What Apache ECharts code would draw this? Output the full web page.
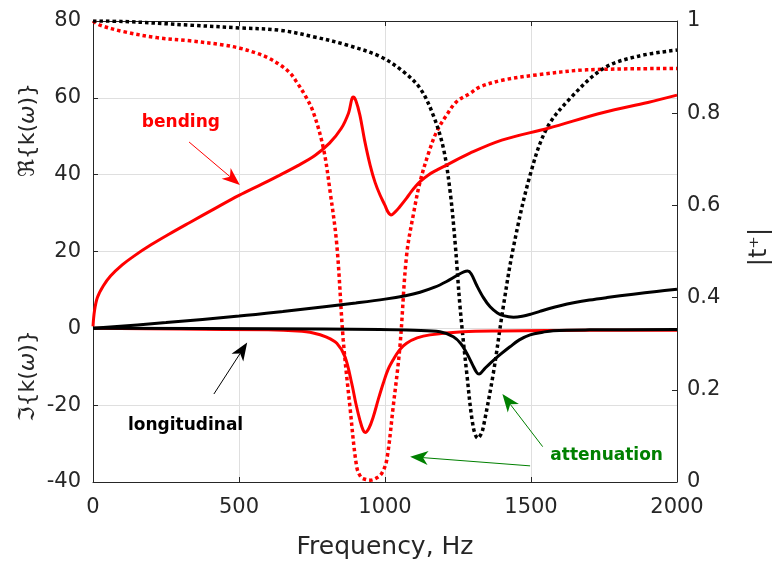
<!DOCTYPE html>
<html><head><meta charset="utf-8">
<script src="https://cdn.jsdelivr.net/npm/echarts@6/dist/echarts.min.js"></script>
<style>html,body{margin:0;padding:0;background:#fff}#c{width:774px;height:563px}</style>
</head><body><div id="c"></div>
<script>
// ---------- data ----------
const xTicks = [0, 500, 1000, 1500, 2000];
const leftTicks = [-40, -20, 0, 20, 40, 60, 80];
const rightTicks = [0, 0.2, 0.4, 0.6, 0.8, 1];

// bending, real part of k (left axis)
const bendReF = [0, 5, 15, 35, 60, 100, 140, 200, 260, 330, 420, 500, 580, 640, 700, 760, 810, 850, 875, 891, 900, 914, 930, 949, 966, 983, 1000, 1010, 1021, 1035, 1050, 1074, 1090, 1105, 1120, 1150, 1180, 1211, 1291, 1400, 1559, 1748, 1900, 2000];
const bendReV = [0.5, 4.5, 8, 11, 13.6, 16.5, 18.8, 21.8, 24.5, 27.5, 31.3, 34.6, 37.6, 39.9, 42.3, 45.0, 48.2, 52.0, 56, 60.2, 59.3, 55.5, 49, 42.5, 38, 34.7, 32, 30.3, 29.5, 30.3, 31.6, 33.9, 35.6, 37, 38.2, 40, 41.3, 42.5, 45.6, 49, 52.1, 56.2, 58.8, 60.7];
// bending, imaginary part of k (left axis)
const bendImF = [0, 300, 600, 700, 754, 800, 835, 863, 886, 900, 914, 925, 932, 945, 960, 977, 994, 1010, 1028, 1050, 1074, 1110, 1154, 1267, 1400, 1700, 2000];
const bendImV = [0, -0.2, -0.4, -0.7, -1.2, -2.3, -3.9, -7.4, -14.3, -19.5, -23.9, -26.5, -27.1, -26, -23, -18.5, -14.3, -10.8, -8.2, -5.6, -3.9, -2.5, -1.7, -0.9, -0.7, -0.5, -0.5];
// longitudinal, real part of k (left axis)
const longReF = [0, 250, 500, 650, 800, 900, 1000, 1070, 1120, 1170, 1211, 1245, 1270, 1283, 1295, 1314, 1337, 1360, 1385, 1405, 1440, 1470, 1500, 1530, 1560, 1600, 1650, 1700, 1760, 1850, 1930, 2000];
const longReV = [0, 1.5, 3.2, 4.4, 5.7, 6.6, 7.6, 8.5, 9.4, 10.7, 12.2, 13.7, 14.7, 14.9, 14.2, 11.2, 8, 5.6, 4, 3.3, 2.9, 3.15, 3.7, 4.4, 5.1, 5.9, 6.7, 7.35, 8.0, 8.9, 9.6, 10.2];
// longitudinal, imaginary part of k (left axis)
const longImF = [0, 600, 983, 1100, 1188, 1234, 1260, 1280, 1300, 1314, 1322, 1340, 1360, 1395, 1428, 1460, 1497, 1540, 1576, 1700, 2000];
const longImV = [0, -0.1, -0.3, -0.5, -0.9, -2.2, -4, -6.5, -9.5, -11.5, -11.9, -10.6, -9.1, -6.8, -4.8, -3, -1.7, -1, -0.6, -0.4, -0.3];
// bending |t+| (right axis)
const bendTF = [0, 24, 104, 218, 332, 446, 503, 561, 600, 640, 675, 697, 725, 754, 789, 812, 835, 857, 880, 903, 918, 932, 950, 972, 990, 1006, 1028, 1051, 1074, 1100, 1120, 1150, 1177, 1210, 1245, 1291, 1325, 1405, 1519, 1691, 2000];
const bendTV = [1.0, 0.991, 0.977, 0.964, 0.957, 0.948, 0.941, 0.930, 0.92, 0.905, 0.887, 0.868, 0.84, 0.803, 0.724, 0.630, 0.514, 0.308, 0.163, 0.033, 0.01, 0.006, 0.004, 0.009, 0.02, 0.048, 0.163, 0.293, 0.492, 0.59, 0.651, 0.715, 0.760, 0.795, 0.825, 0.843, 0.857, 0.872, 0.883, 0.894, 0.897];
// longitudinal |t+| (right axis)
const longTF = [0, 104, 332, 503, 640, 754, 869, 983, 1063, 1120, 1165, 1200, 1223, 1240, 1257, 1280, 1302, 1318, 1330, 1337, 1371, 1405, 1440, 1497, 1554, 1634, 1748, 1862, 2000];
const longTV = [1.0, 0.999, 0.991, 0.985, 0.980, 0.966, 0.948, 0.923, 0.890, 0.854, 0.796, 0.724, 0.630, 0.52, 0.38, 0.236, 0.120, 0.095, 0.105, 0.120, 0.236, 0.380, 0.510, 0.666, 0.767, 0.832, 0.897, 0.923, 0.937];

// annotations (data coordinates on the left axis)
const noteTexts = ['bending', 'longitudinal', 'attenuation'];
const notePos = [[301, 53.5], [317, -25.4], [1759, -33.2]];
const noteColors = ['#ff0000', '#000000', '#008000'];
const arrowFrom = [[329, 48.5], [414, -17.1], [1540, -30.8], [1497, -35.8]];
const arrowTo = [[503, 37.3], [528, -3.7], [1402, -17.1], [1086, -33.4]];
const arrowColors = ['#ff0000', '#000000', '#008000', '#008000'];

// ---------- chart ----------
const FONT = 'DejaVu Sans';
const AX = '#262626';
const pairs = (f, v) => f.map((x, i) => [x, v[i]]);
const chart = echarts.init(document.getElementById('c'), null, {renderer: 'canvas'});

function solid(name, f, v, color, yi) {
  return {name, type: 'line', xAxisIndex: 0, yAxisIndex: yi, data: pairs(f, v), showSymbol: false,
    smooth: 0.35, lineStyle: {color, width: 3}, itemStyle: {color}, silent: true};
}
function dotted(name, f, v, color, yi) {
  return {name, type: 'line', xAxisIndex: 0, yAxisIndex: yi, data: pairs(f, v), showSymbol: false,
    smooth: 0.35, lineStyle: {color, width: 3.5, type: [3.5, 3], cap: 'butt'}, itemStyle: {color}, silent: true};
}

const axLabel = {fontFamily: FONT, fontSize: 21, color: AX, formatter: v => String(v)};
chart.setOption({
  animation: false,
  backgroundColor: '#fff',
  grid: {left: 93, right: 97, top: 21, bottom: 81, containLabel: false, outerBoundsMode: 'none'},
  xAxis: [
    {type: 'value', position: 'bottom', min: xTicks[0], max: xTicks[xTicks.length - 1], interval: 500,
     axisLine: {show: true, onZero: false, lineStyle: {color: AX, width: 1}},
     axisTick: {show: true, inside: true, length: 5, lineStyle: {color: AX}},
     axisLabel: Object.assign({}, axLabel, {margin: 15}),
     splitLine: {show: true, lineStyle: {color: '#dfdfdf', width: 1}},
     name: 'Frequency, Hz', nameLocation: 'middle', nameGap: 53,
     nameTextStyle: {fontFamily: FONT, fontSize: 25, color: AX}},
    {type: 'value', position: 'top', min: xTicks[0], max: xTicks[xTicks.length - 1], interval: 500,
     axisLine: {show: true, onZero: false, lineStyle: {color: AX, width: 1}},
     axisTick: {show: true, inside: true, length: 5, lineStyle: {color: AX}},
     axisLabel: {show: false}, splitLine: {show: false}}
  ],
  yAxis: [
    {type: 'value', position: 'left', min: leftTicks[0], max: leftTicks[leftTicks.length - 1], interval: 20,
     axisLine: {show: true, onZero: false, lineStyle: {color: AX, width: 1}},
     axisTick: {show: true, inside: true, length: 5, lineStyle: {color: AX}},
     axisLabel: Object.assign({}, axLabel, {margin: 12}),
     splitLine: {show: true, lineStyle: {color: '#dfdfdf', width: 1}}},
    {type: 'value', position: 'right', min: rightTicks[0], max: rightTicks[rightTicks.length - 1], interval: 0.2,
     axisLine: {show: true, onZero: false, lineStyle: {color: AX, width: 1}},
     axisTick: {show: true, inside: true, length: 5, lineStyle: {color: AX}},
     axisLabel: Object.assign({}, axLabel, {margin: 10}),
     splitLine: {show: false}}
  ],
  series: [
    dotted('bending |t+|', bendTF, bendTV, '#ff0000', 1),
    dotted('longitudinal |t+|', longTF, longTV, '#000000', 1),
    solid('bending Re', bendReF, bendReV, '#ff0000', 0),
    solid('bending Im', bendImF, bendImV, '#ff0000', 0),
    solid('longitudinal Re', longReF, longReV, '#000000', 0),
    solid('longitudinal Im', longImF, longImV, '#000000', 0)
  ]
});

// ---------- annotations, positioned through the axes ----------
const toPx = p => chart.convertToPixel({xAxisIndex: 0, yAxisIndex: 0}, p);
const graphics = [];
noteTexts.forEach((t, i) => {
  const p = toPx(notePos[i]);
  graphics.push({type: 'text', x: p[0], y: p[1], z: 100,
    style: {text: t, fill: noteColors[i], font: 'bold 17px "' + FONT + '"', textAlign: 'center', textVerticalAlign: 'middle'}});
});
arrowFrom.forEach((a, i) => {
  const p1 = toPx(a), p2 = toPx(arrowTo[i]);
  const dx = p2[0] - p1[0], dy = p2[1] - p1[1], len = Math.hypot(dx, dy);
  const ux = dx / len, uy = dy / len, nx = -uy, ny = ux;
  const L = 18, H = 7, N = 5;
  const bx = p2[0] - ux * L, by = p2[1] - uy * L;
  const notch = [p2[0] - ux * (L - N), p2[1] - uy * (L - N)];
  graphics.push({type: 'line', z: 100, shape: {x1: p1[0], y1: p1[1], x2: notch[0], y2: notch[1]},
    style: {stroke: arrowColors[i], lineWidth: 1}});
  graphics.push({type: 'polygon', z: 100, shape: {points: [p2, [bx + nx * H, by + ny * H], notch, [bx - nx * H, by - ny * H]]},
    style: {fill: arrowColors[i]}});
});
// axis titles
graphics.push({type: 'text', x: 28, y: 130, rotation: Math.PI / 2, z: 100,
  style: {text: 'ℜ{k({i|ω})}', fill: AX, font: '22px "' + FONT + '"', textAlign: 'center', textVerticalAlign: 'middle',
    rich: {i: {fontStyle: 'italic', fontFamily: FONT, fontSize: 22, fill: AX}}}});
graphics.push({type: 'text', x: 28, y: 376, rotation: Math.PI / 2, z: 100,
  style: {text: 'ℑ{k({i|ω})}', fill: AX, font: '22px "' + FONT + '"', textAlign: 'center', textVerticalAlign: 'middle',
    rich: {i: {fontStyle: 'italic', fontFamily: FONT, fontSize: 22, fill: AX}}}});
graphics.push({type: 'text', x: 760, y: 247, rotation: Math.PI / 2, z: 100,
  style: {text: '|t⁺|', fill: AX, font: '24px "' + FONT + '"', textAlign: 'center', textVerticalAlign: 'middle'}});
chart.setOption({graphic: graphics});
</script></body></html>
